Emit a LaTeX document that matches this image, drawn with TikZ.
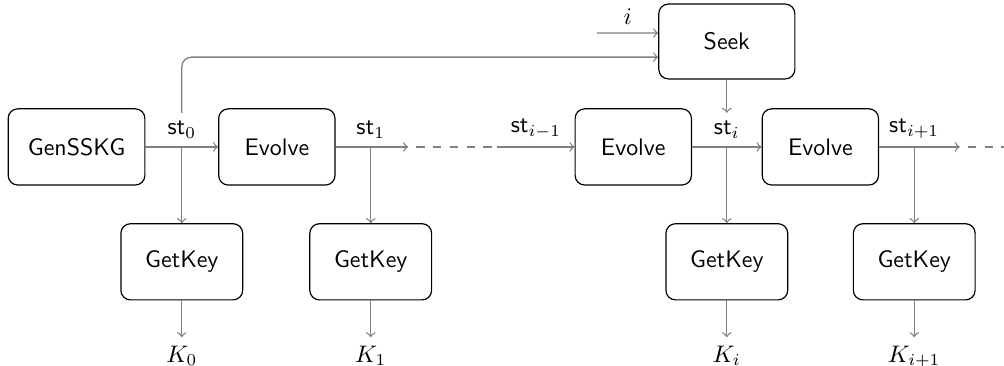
\documentclass[tikz,border=0pt]{standalone}
\usepackage{amsmath}
\usetikzlibrary{positioning,calc}

\begin{document}
\begin{tikzpicture}[
    algbox/.style={draw, rounded corners=4pt, minimum height=1.12cm, font=\sffamily, line width=0.5pt},
    flow/.style={->, gray, line width=0.55pt},
    ellipsis/.style={gray, line width=0.55pt, dash pattern=on 3.5pt off 3.5pt},
]
    \useasboundingbox (0,0) rectangle (14.76,-5.37);

    % key generation and the evolve chain
    \node[algbox, minimum width=2.01cm] (gen) at (1.125,-2.16) {GenSSKG};
    \node[algbox, minimum width=1.71cm] (ev1) at (4.07,-2.16) {Evolve};
    \node[algbox, minimum width=1.71cm] (ev2) at (9.31,-2.16) {Evolve};
    \node[algbox, minimum width=1.71cm] (ev3) at (12.06,-2.16) {Evolve};

    % branch points of the states
    \coordinate (b0) at ($(gen.east)!0.5!(ev1.west)$);
    \coordinate (b1) at (5.45,-2.16);
    \coordinate (bi) at ($(ev2.east)!0.5!(ev3.west)$);
    \coordinate (b2) at (13.44,-2.16);

    % open ends of the chain
    \coordinate (a1) at (6.00,-2.16);
    \coordinate (d1s) at (6.12,-2.16);
    \coordinate (d1e) at (7.31,-2.16);
    \coordinate (a2) at (14.11,-2.16);
    \coordinate (d2s) at (14.23,-2.16);
    \coordinate (d2e) at (14.76,-2.16);

    \node[algbox, minimum width=2.0cm, minimum height=1.1cm] (seek) at (bi |- 0,-0.61) {Seek};
    \coordinate (iin) at (8.78,-0.485);

    % state labels
    \node[above] (st0) at (b0) {$\mathsf{st}_0$};
    \node[above] (st1) at (b1) {$\mathsf{st}_1$};
    \node[above] (stim1) at ($(d1e)!0.5!(ev2.west)$) {$\mathsf{st}_{i-1}$};
    \node[above] (sti) at (bi) {$\mathsf{st}_i$};
    \node[above] (stip1) at (b2) {$\mathsf{st}_{i+1}$};

    % key derivation
    \node[algbox, minimum width=1.79cm, below=1.12cm of b0] (gk0) {GetKey};
    \node[algbox, minimum width=1.79cm, below=1.12cm of b1] (gk1) {GetKey};
    \node[algbox, minimum width=1.79cm, below=1.12cm of bi] (gki) {GetKey};
    \node[algbox, minimum width=1.79cm, below=1.12cm of b2] (gkip1) {GetKey};

    \node[below=0.54cm of gk0] (k0) {$K_0$};
    \node[below=0.54cm of gk1] (k1) {$K_1$};
    \node[below=0.54cm of gki] (ki) {$K_i$};
    \node[below=0.54cm of gkip1] (kip1) {$K_{i+1}$};

    % connectors
    \draw[flow] (gen) -- (ev1);
    \draw[flow] (ev1) -- (a1);
    \draw[ellipsis] (d1s) -- (d1e);
    \draw[flow] (d1e) -- (ev2);
    \draw[flow] (ev2) -- (ev3);
    \draw[flow] (ev3) -- (a2);
    \draw[ellipsis] (d2s) -- (d2e);

    \draw[flow, rounded corners=4pt] (st0.north) |- ([yshift=-0.23cm]seek.west);
    \draw[flow] (iin) -- node[above, text=black] (ilab) {$i$} ([yshift=0.125cm]seek.west);
    \draw[flow] (seek) -- (sti);

    \draw[flow] (b0) -- (gk0);
    \draw[flow] (b1) -- (gk1);
    \draw[flow] (bi) -- (gki);
    \draw[flow] (b2) -- (gkip1);

    \draw[flow] (gk0) -- (k0);
    \draw[flow] (gk1) -- (k1);
    \draw[flow] (gki) -- (ki);
    \draw[flow] (gkip1) -- (kip1);
\end{tikzpicture}
\end{document}
